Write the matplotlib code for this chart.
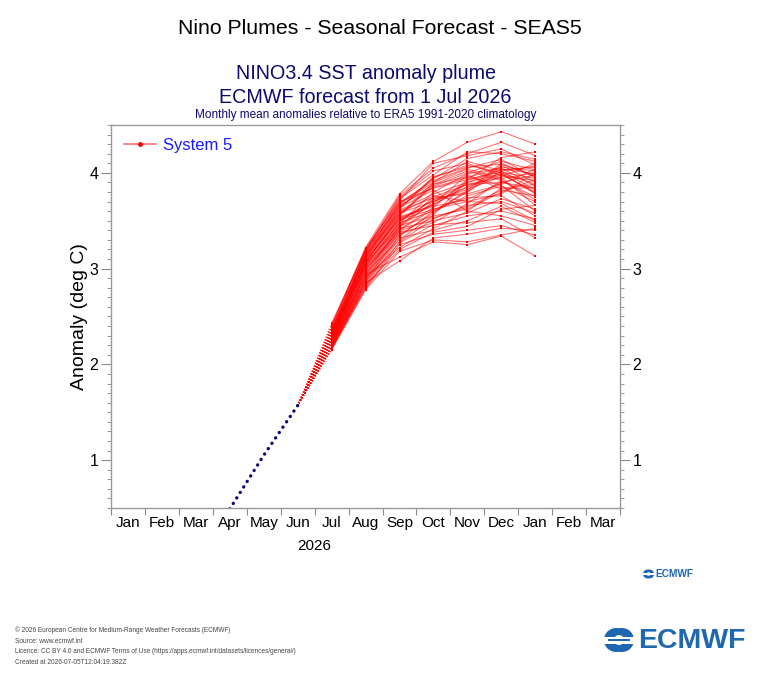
import numpy as np
import matplotlib.pyplot as plt
from matplotlib.lines import Line2D
from matplotlib.patches import Circle, Rectangle
from matplotlib.ticker import MultipleLocator

plt.rcParams['font.family'] = ['Liberation Sans', 'DejaVu Sans']

# month axis, Jan 2026 .. Mar 2027
month_labels = ['Jan', 'Feb', 'Mar', 'Apr', 'May', 'Jun', 'Jul', 'Aug',
                'Sep', 'Oct', 'Nov', 'Dec', 'Jan', 'Feb', 'Mar']

# observed (ERA5) anomalies, Apr..Jun 2026
obs_idx = [3, 4, 5]
obs_vals = [0.49, 1.05, 1.57]

# forecast months Jul 2026 .. Jan 2027, 51 ensemble members
fc_idx = [6, 7, 8, 9, 10, 11, 12]
jul = [2.40, 2.38, 2.43, 2.36, 2.33, 2.37, 2.30, 2.31, 2.28, 2.34,
       2.26, 2.29, 2.22, 2.27, 2.24, 2.25, 2.20, 2.23, 2.18, 2.21,
       2.17, 2.19, 2.16, 2.15, 2.20, 2.18, 2.28, 2.32, 2.35, 2.41,
       2.26, 2.30, 2.22, 2.24, 2.27, 2.19, 2.33, 2.21, 2.29, 2.36,
       2.23, 2.31, 2.17, 2.25, 2.39, 2.20, 2.27, 2.34, 2.16, 2.28, 2.32]
aug = [3.22, 3.20, 3.19, 3.16, 3.13, 3.11, 3.09, 3.07, 3.05, 3.03,
       3.01, 2.99, 2.97, 2.95, 2.93, 2.92, 2.90, 2.88, 2.86, 2.84,
       2.82, 2.80, 2.79, 2.78, 2.94, 2.85, 3.14, 3.06, 3.18, 3.21,
       3.10, 3.12, 3.04, 3.00, 3.08, 2.96, 3.17, 2.91, 3.06, 3.15,
       2.98, 3.11, 2.87, 3.02, 3.19, 2.89, 3.03, 3.13, 2.83, 3.07, 3.16]
sep = [3.78, 3.76, 3.73, 3.71, 3.69, 3.66, 3.63, 3.61, 3.58, 3.55,
       3.53, 3.50, 3.48, 3.46, 3.45, 3.44, 3.42, 3.40, 3.38, 3.35,
       3.32, 3.28, 3.25, 3.18, 3.12, 3.08, 3.64, 3.56, 3.74, 3.70,
       3.52, 3.60, 3.47, 3.36, 3.51, 3.30, 3.67, 3.22, 3.43, 3.58,
       3.41, 3.57, 3.27, 3.39, 3.65, 3.34, 3.49, 3.62, 3.20, 3.54, 3.68]
oct_ = [4.12, 4.05, 3.98, 4.10, 3.92, 3.85, 3.95, 3.78, 3.70, 3.88,
        3.65, 3.72, 3.60, 3.68, 3.55, 3.75, 3.50, 3.62, 3.45, 3.58,
        3.40, 3.52, 3.36, 3.30, 3.28, 3.32, 3.82, 3.90, 4.02, 3.84,
        3.67, 3.74, 3.80, 3.48, 3.62, 3.56, 3.94, 3.42, 3.70, 3.76,
        3.64, 3.86, 3.46, 3.53, 3.88, 3.60, 3.72, 3.96, 3.38, 3.66, 3.90]
nov = [4.32, 4.20, 4.22, 4.18, 4.05, 3.95, 4.08, 3.90, 3.85, 4.02,
       3.72, 3.80, 3.76, 3.98, 3.62, 3.88, 3.58, 3.70, 3.55, 3.82,
       3.50, 3.66, 3.40, 3.28, 3.25, 3.36, 3.60, 4.12, 4.10, 3.93,
       3.86, 3.78, 3.99, 3.68, 3.74, 3.92, 4.15, 3.60, 3.83, 3.70,
       3.93, 4.00, 3.48, 3.64, 3.96, 3.80, 3.88, 4.06, 3.44, 3.90, 4.04]
dec = [4.43, 4.32, 4.20, 4.25, 4.14, 4.06, 4.00, 4.03, 3.98, 3.92,
       3.90, 4.08, 3.86, 3.83, 3.80, 3.95, 3.73, 3.78, 3.60, 4.10,
       3.65, 3.70, 3.45, 3.35, 3.34, 3.42, 3.55, 4.02, 3.97, 4.16,
       4.00, 3.88, 4.05, 3.92, 3.76, 4.04, 4.22, 3.84, 3.96, 3.68,
       4.01, 4.12, 3.52, 3.82, 3.87, 4.02, 3.90, 4.09, 3.62, 3.99, 3.94]
jan = [4.30, 4.18, 4.12, 4.08, 3.95, 4.02, 3.88, 4.06, 3.80, 3.75,
       3.98, 3.90, 3.70, 3.85, 3.93, 3.66, 3.62, 4.00, 3.52, 3.96,
       3.48, 3.58, 3.35, 3.42, 3.13, 3.40, 3.45, 3.82, 3.92, 4.22,
       3.78, 4.04, 3.86, 3.72, 3.55, 3.99, 4.14, 3.88, 4.10, 3.50,
       3.94, 4.03, 3.32, 3.76, 3.60, 4.07, 3.84, 3.97, 3.66, 3.79, 4.00]

footer = ['\u00a9 2026 European Centre for Medium-Range Weather Forecasts (ECMWF)',
          'Source: www.ecmwf.int',
          'Licence: CC BY 4.0 and ECMWF Terms of Use (https://apps.ecmwf.int/datasets/licences/general/)',
          'Created at 2026-07-05T12:04:19.382Z']

blue = '#1f68b0'
navy = '#0a0a6e'

fig = plt.figure(figsize=(7.6, 6.84), dpi=100)
ax = fig.add_axes([0.146, 0.2573, 0.670, 0.560])

obs_x = np.array(obs_idx) + 0.5
fc_x = np.array(fc_idx) + 0.5
members = np.array([jul, aug, sep, oct_, nov, dec, jan]).T

# observations
ax.plot(obs_x, obs_vals, color=navy, lw=2.4, ls=(0, (0.05, 1.9)),
        dash_capstyle='round', zorder=3)

# link from last observation to first forecast month
for v in jul:
    ax.plot([obs_x[-1], fc_x[0]], [obs_vals[-1], v], color='red', lw=0.6,
            ls=(0, (1.2, 2.2)), zorder=2)

# ensemble members
for m in members:
    ax.plot(fc_x, m, color='red', lw=0.8, alpha=0.55, zorder=2)
    ax.plot(fc_x, m, ls='none', marker='s', ms=2.0, color='red', mew=0, zorder=2)

ax.set_xlim(0, 15)
ax.set_ylim(0.5, 4.5)

ax.set_xticks(np.arange(16))
ax.set_xticklabels([])
ax.set_xticks(np.arange(15) + 0.5, minor=True)
ax.set_xticklabels(month_labels, minor=True, fontsize=11)
ax.tick_params(axis='x', which='major', direction='out', length=5, color='#888888')
ax.tick_params(axis='x', which='minor', length=0, pad=6)

ax.yaxis.set_major_locator(MultipleLocator(1))
ax.yaxis.set_minor_locator(MultipleLocator(0.1))
ax.tick_params(axis='y', which='both', direction='out', left=True, right=True,
               labelleft=True, labelright=True, color='#888888', labelsize=11.5)
ax.tick_params(axis='y', which='major', length=7, pad=2)
ax.tick_params(axis='y', which='minor', length=3)

for s in ax.spines.values():
    s.set_color('#999999')
    s.set_linewidth(1.0)

ax.set_ylabel('Anomaly (deg C)', fontsize=14)
ax.yaxis.set_label_coords(-0.045, 0.5)

ax.text(6.0, -0.1, '2026', transform=ax.get_xaxis_transform(),
        ha='center', va='center', fontsize=11)

handle = Line2D([], [], color='#ff7070', lw=1.2, marker='o', ms=2.5,
                mfc='red', mec='red')
ax.legend([handle], ['System 5'], loc='upper left', frameon=False,
          fontsize=12, labelcolor='#1a1aff', handlelength=1.9,
          handletextpad=0.4, bbox_to_anchor=(0.0, 1.0), borderaxespad=0.4)

# titles
fig.text(0.5, 0.959, 'Nino Plumes - Seasonal Forecast - SEAS5',
         ha='center', va='center', fontsize=15.3)
fig.text(0.481, 0.893, 'NINO3.4 SST anomaly plume', ha='center', va='center',
         fontsize=14.2, color=navy)
fig.text(0.481, 0.857, 'ECMWF forecast from 1 Jul 2026', ha='center',
         va='center', fontsize=14.2, color=navy)
fig.text(0.481, 0.832, 'Monthly mean anomalies relative to ERA5 1991-2020 climatology',
         ha='center', va='center', fontsize=8.5, color=navy)

# footer
for i, line in enumerate(footer):
    fig.text(15 / 760, 1 - (630.5 + i * 10.7) / 684, line, ha='left', va='center',
             fontsize=4.7, color='#444444')

# logos drawn in pixel coordinates
over = fig.add_axes([0, 0, 1, 1])
over.set_xlim(0, 760)
over.set_ylim(684, 0)
over.axis('off')


def draw_logo(x0, yc, s, fs):
    # x0: left of the icon, yc: vertical centre, s: scale of the icon
    r = 12 * s
    for cx in (x0 + r, x0 + r + 6 * s):
        over.add_patch(Circle((cx, yc), r, color=blue, lw=0))
    over.add_patch(Circle((x0 + r + 3 * s, yc), 5 * s, color='white', lw=0))
    over.add_patch(Rectangle((x0 - 2, yc - 3.5 * s), 2 * r + 10 * s, 7 * s,
                             color='white', lw=0))
    over.add_patch(Rectangle((x0 + 4 * s, yc - 1.0 * s), 2 * r - 2 * s, 2.0 * s,
                             color=blue, lw=0))
    over.text(x0 + 2 * r + 10 * s, yc + 0.5 * s, 'ECMWF', ha='left', va='center',
              fontsize=fs, fontweight='bold', color=blue)


draw_logo(604, 640, 1.0, 20.5)
draw_logo(643, 574, 0.37, 7.3)

fig.savefig('out.png', dpi=100)
